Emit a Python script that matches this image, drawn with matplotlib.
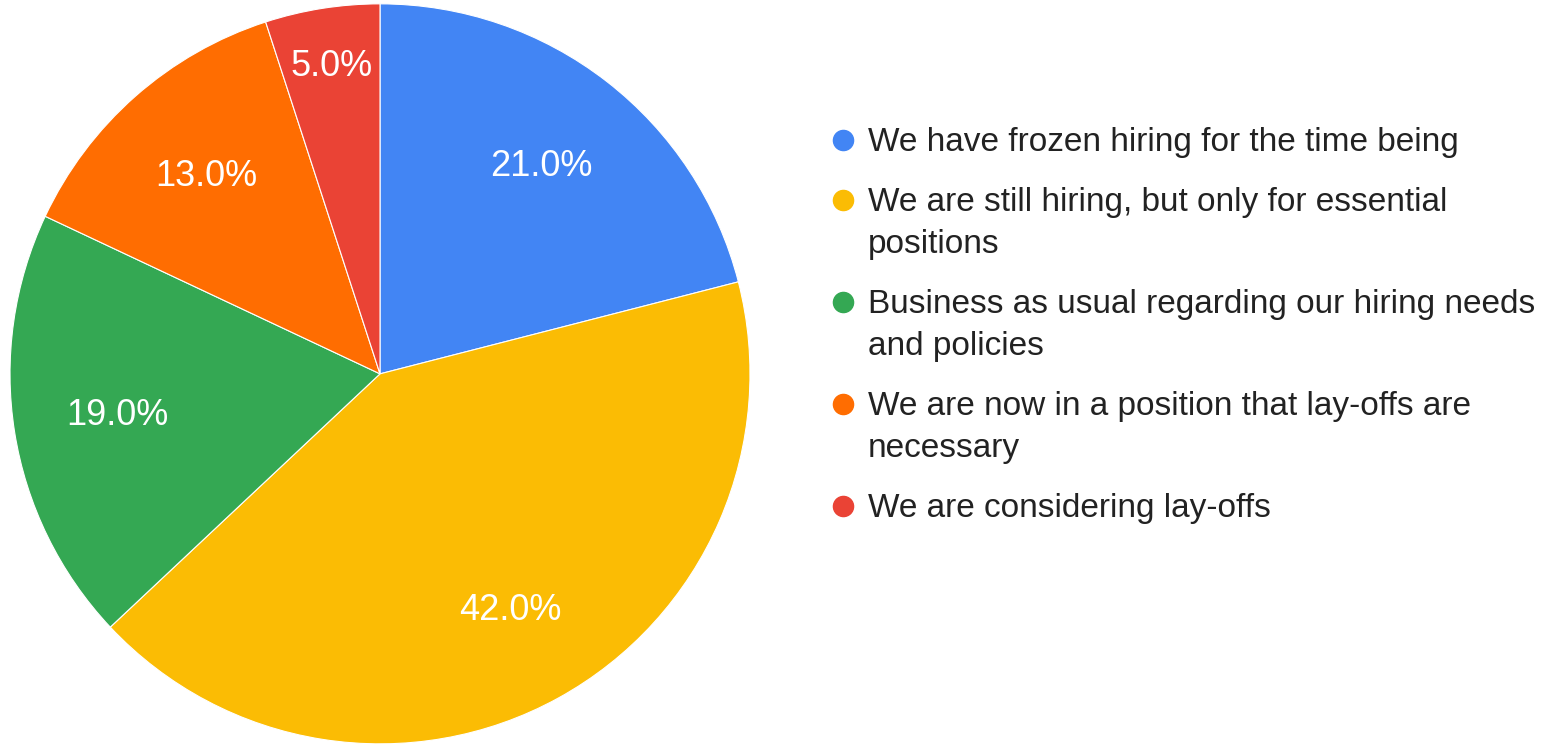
import matplotlib.pyplot as plt
import numpy as np

plt.rcParams['font.family'] = ['Liberation Sans', 'DejaVu Sans']

labels = [
    ['We have frozen hiring for the time being'],
    ['We are still hiring, but only for essential', 'positions'],
    ['Business as usual regarding our hiring needs', 'and policies'],
    ['We are now in a position that lay-offs are', 'necessary'],
    ['We are considering lay-offs'],
]
shares = [21.0, 42.0, 19.0, 13.0, 5.0]
colors = ['#4285F4', '#FBBC04', '#34A853', '#FF6D01', '#EA4335']
label_dist = [0.71, 0.73, 0.72, 0.71, 0.84]

W, H = 1567, 744
fig = plt.figure(figsize=(W / 100, H / 100), dpi=100)
ax = fig.add_axes([10 / W, 0, 740 / W, 1])

wedges, _ = ax.pie(shares, colors=colors, startangle=90, counterclock=False,
                   radius=1.0, wedgeprops=dict(edgecolor='white', linewidth=0.8))
ax.set_xlim(-1, 1)
ax.set_ylim(-H / 740 + 0.005, H / 740 + 0.005)
ax.set_aspect('equal')
ax.axis('off')

for w, val, d in zip(wedges, shares, label_dist):
    mid = np.deg2rad((w.theta1 + w.theta2) / 2)
    ax.text(d * np.cos(mid), d * np.sin(mid), f'{val:.1f}%', color='white',
            fontsize=26, ha='center', va='center')

# legend drawn by hand so the wrapped entries sit like the sheet export
y = 140
for lines, c in zip(labels, colors):
    fig.lines.append(plt.Line2D([843 / W], [1 - y / H], marker='o', markersize=14.5,
                                color=c, transform=fig.transFigure))
    for i, line in enumerate(lines):
        fig.text(868 / W, 1 - (y + 11 + 42 * i) / H, line, fontsize=24,
                 color='#222222', ha='left', va='baseline')
    y += 60 + 42 * (len(lines) - 1)

fig.savefig('out.png', dpi=100)
